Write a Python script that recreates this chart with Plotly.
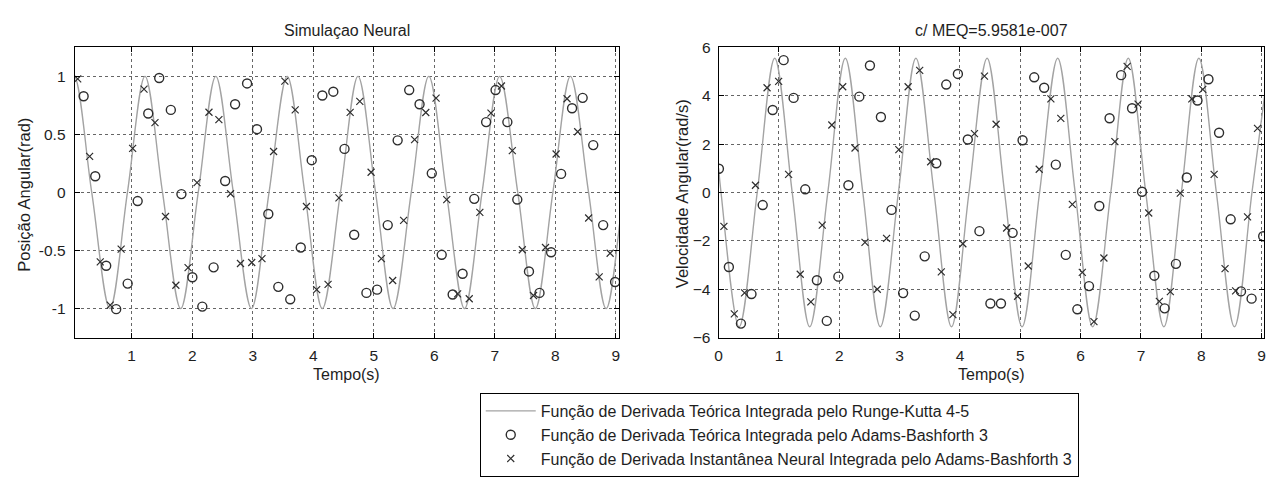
import plotly.graph_objects as go

# ---------------- data ----------------
# Runge-Kutta curve knots (extrema / zero crossings), position panel
pos_curve_t = [-0.24, 0.05, 0.34, 0.64, 0.93, 1.22, 1.51, 1.81, 2.10, 2.39, 2.68, 2.98, 3.27,
               3.57, 3.86, 4.15, 4.45, 4.74, 5.03, 5.32, 5.62, 5.91, 6.20, 6.50, 6.79, 7.08,
               7.38, 7.67, 7.96, 8.25, 8.55, 8.84, 9.13, 9.43]
pos_curve_y = [0, 1, 0, -1, 0, 1, 0, -1, 0, 1, 0, -1, 0,
               1, 0, -1, 0, 1, 0, -1, 0, 1, 0, -1, 0, 1,
               0, -1, 0, 1, 0, -1, 0, 1]

# Runge-Kutta curve knots, velocity panel
vel_curve_t = [0.0, 0.04, 0.34, 0.64, 0.93, 1.22, 1.51, 1.81, 2.10, 2.39, 2.68, 2.98, 3.27,
               3.57, 3.86, 4.15, 4.45, 4.74, 5.03, 5.32, 5.62, 5.91, 6.20, 6.50, 6.79, 7.08,
               7.38, 7.67, 7.96, 8.25, 8.55, 8.84, 9.13]
vel_curve_y = [1.0, 0, -5.55, 0, 5.55, 0, -5.55, 0, 5.55, 0, -5.55, 0, 5.55,
               0, -5.55, 0, 5.55, 0, -5.55, 0, 5.55, 0, -5.55, 0, 5.55, 0,
               -5.55, 0, 5.55, 0, -5.55, 0, 5.55]

# Adams-Bashforth 3 (theoretical derivative) - position
pos_ab_t = [0.206, 0.398, 0.579, 0.744, 0.934, 1.099, 1.274, 1.455, 1.647, 1.822, 2.003, 2.167,
            2.354, 2.545, 2.709, 2.907, 3.071, 3.258, 3.423, 3.620, 3.794, 3.975, 4.151, 4.332,
            4.517, 4.677, 4.879, 5.055, 5.231, 5.395, 5.586, 5.757, 5.959, 6.123, 6.304, 6.468,
            6.661, 6.857, 7.013, 7.208, 7.372, 7.565, 7.739, 7.931, 8.096, 8.277, 8.452, 8.627,
            8.791, 8.988]
pos_ab_y = [0.829, 0.14, -0.631, -1.005, -0.785, -0.074, 0.680, 0.986, 0.711, -0.014, -0.730, -0.983,
            -0.645, 0.099, 0.760, 0.939, 0.545, -0.185, -0.813, -0.920, -0.474, 0.278, 0.835, 0.868,
            0.375, -0.364, -0.865, -0.837, -0.281, 0.449, 0.882, 0.760, 0.165, -0.537, -0.879, -0.700,
            -0.055, 0.606, 0.882, 0.606, -0.061, -0.680, -0.865, -0.515, 0.160, 0.725, 0.815, 0.408,
            -0.281, -0.771]

# Adams-Bashforth 3 (neural instantaneous derivative) - position
pos_nn_t = [0.108, 0.305, 0.481, 0.645, 0.826, 1.016, 1.204, 1.385, 1.559, 1.730, 1.932, 2.080,
            2.277, 2.441, 2.634, 2.798, 2.984, 3.153, 3.345, 3.531, 3.702, 3.888, 4.057, 4.245,
            4.425, 4.610, 4.770, 4.956, 5.126, 5.313, 5.494, 5.675, 5.860, 6.030, 6.206, 6.386,
            6.578, 6.753, 6.937, 7.110, 7.290, 7.455, 7.640, 7.838, 8.013, 8.194, 8.370, 8.551,
            8.725, 8.906]
pos_nn_y = [0.978, 0.311, -0.598, -0.970, -0.488, 0.380, 0.890, 0.601, -0.207, -0.799, -0.647, 0.085,
            0.691, 0.628, -0.011, -0.612, -0.603, -0.570, 0.353, 0.959, 0.711, -0.121, -0.837, -0.791,
            -0.047, 0.690, 0.785, 0.174, -0.570, -0.758, -0.240, 0.455, 0.689, 0.813, -0.061, -0.873,
            -0.915, -0.171, 0.683, 0.917, 0.361, -0.493, -0.887, -0.474, 0.331, 0.807, 0.523, -0.220,
            -0.727, -0.523]

# Adams-Bashforth 3 (theoretical derivative) - velocity
vel_ab_t = [0.005, 0.17, 0.37, 0.545, 0.731, 0.896, 1.078, 1.243, 1.436, 1.629, 1.793, 1.985,
            2.151, 2.332, 2.508, 2.690, 2.866, 3.058, 3.251, 3.416, 3.608, 3.773, 3.966, 4.130,
            4.323, 4.505, 4.680, 4.873, 5.038, 5.231, 5.396, 5.589, 5.754, 5.946, 6.139, 6.310,
            6.480, 6.672, 6.853, 7.018, 7.222, 7.393, 7.580, 7.760, 7.937, 8.119, 8.295, 8.487,
            8.658, 8.834, 9.026]
vel_ab_y = [0.98, -3.08, -5.42, -4.20, -0.52, 3.41, 5.47, 3.91, 0.13, -3.63, -5.31, -3.48,
            0.30, 3.96, 5.25, 3.12, -0.72, -4.16, -5.09, -2.64, 1.21, 4.46, 4.90, 2.19,
            -1.60, -4.59, -4.59, -1.67, 2.16, 4.76, 4.33, 1.15, -2.58, -4.83, -3.87, -0.56,
            3.07, 4.85, 3.48, 0.03, -3.44, -4.79, -2.95, 0.62, 3.80, 4.68, 2.47, -1.11,
            -4.09, -4.39, -1.81]

# Adams-Bashforth 3 (neural instantaneous derivative) - velocity
vel_nn_t = [0.088, 0.260, 0.430, 0.611, 0.803, 0.995, 1.160, 1.353, 1.529, 1.718, 1.876, 2.057,
            2.261, 2.426, 2.630, 2.784, 2.987, 3.141, 3.333, 3.515, 3.691, 3.883, 4.048, 4.241,
            4.406, 4.599, 4.774, 4.956, 5.132, 5.314, 5.507, 5.672, 5.863, 6.028, 6.221, 6.386,
            6.568, 6.771, 6.952, 7.129, 7.305, 7.487, 7.652, 7.843, 8.025, 8.213, 8.394, 8.569,
            8.767, 8.932]
vel_nn_y = [-1.40, -5.02, -4.15, 0.30, 4.33, 4.59, 0.75, -3.38, -4.52, -1.35, 2.79, 4.37,
            1.84, -2.06, -4.00, -1.90, 1.77, 4.37, 5.05, 1.27, -3.28, -5.05, -2.12, 2.43,
            4.81, 2.82, -1.47, -4.29, -3.04, 0.96, 3.87, 3.06, -0.49, -3.30, -5.34, -2.71,
            2.10, 5.21, 3.65, -0.85, -4.50, -4.10, -0.03, 3.87, 4.26, 0.75, -3.15, -4.07,
            -1.01, 2.65]

pos_yticks = [-1, -0.5, 0, 0.5, 1]
pos_ytick_labels = ["-1", "-0.5", "0", "0.5", "1"]
vel_yticks = [-6, -4, -2, 0, 2, 4, 6]
left_xticks = [1, 2, 3, 4, 5, 6, 7, 8, 9]
right_xticks = [0, 1, 2, 3, 4, 5, 6, 7, 8, 9]

legend_names = [
    "Função de Derivada Teórica Integrada pelo Runge-Kutta 4-5",
    "Função de Derivada Teórica Integrada pelo Adams-Bashforth 3",
    "Função de Derivada Instantânea Neural Integrada pelo Adams-Bashforth 3",
]

# ---------------- figure ----------------
W, H = 1271, 477
FONT = "Liberation Sans, Arial, sans-serif"
CURVE = "#a3a3a3"
MARK = "#2e2e2e"
TXT = "#1e1e1e"

fig = go.Figure()

def add_panel(xa, ya, ct, cy, at, ay, nt, ny, show):
    fig.add_trace(go.Scatter(x=ct, y=cy, mode="lines",
                             line=dict(color=CURVE, width=1.4, shape="spline", smoothing=1.0),
                             name=legend_names[0], showlegend=show, xaxis=xa, yaxis=ya))
    fig.add_trace(go.Scatter(x=at, y=ay, mode="markers",
                             marker=dict(symbol="circle-open", size=9, color=MARK, line=dict(width=1.4, color=MARK)),
                             name=legend_names[1], showlegend=show, xaxis=xa, yaxis=ya))
    fig.add_trace(go.Scatter(x=nt, y=ny, mode="markers",
                             marker=dict(symbol="x-thin-open", size=7, color=MARK, line=dict(width=1.2, color=MARK)),
                             name=legend_names[2], showlegend=show, xaxis=xa, yaxis=ya))

add_panel("x", "y", pos_curve_t, pos_curve_y, pos_ab_t, pos_ab_y, pos_nn_t, pos_nn_y, True)
add_panel("x2", "y2", vel_curve_t, vel_curve_y, vel_ab_t, vel_ab_y, vel_nn_t, vel_nn_y, False)

def px_x(p):
    return p / W

def px_y(p):
    return 1 - p / H

top, bottom = 40, 343
axis_common = dict(
    showline=True, linecolor="#000", linewidth=1, mirror="ticks",
    ticks="inside", ticklen=5, tickcolor="#000", tickwidth=1,
    showgrid=True, gridcolor="#666", griddash="dot", gridwidth=1,
    zeroline=False, tickfont=dict(family=FONT, size=15.5, color=TXT),
)

fig.update_layout(
    width=W, height=H, margin=dict(l=0, r=0, t=0, b=0),
    paper_bgcolor="white", plot_bgcolor="white",
    font=dict(family=FONT, size=16, color=TXT),
    xaxis=dict(domain=[px_x(71), px_x(618)], range=[0.058, 9.054], tickvals=left_xticks,
               anchor="y", ticklabelstandoff=4, **axis_common),
    yaxis=dict(domain=[px_y(bottom), px_y(top)], range=[-1.25, 1.25], tickvals=pos_yticks,
               ticktext=pos_ytick_labels, anchor="x", ticklabelstandoff=5, **axis_common),
    xaxis2=dict(domain=[px_x(718), px_x(1266)], range=[0, 9.04], tickvals=right_xticks,
                anchor="y2", ticklabelstandoff=4, **axis_common),
    yaxis2=dict(domain=[px_y(bottom), px_y(top)], range=[-6, 6], tickvals=vel_yticks,
                anchor="x2", ticklabelstandoff=4, **axis_common),
    showlegend=True,
    legend=dict(x=px_x(478), y=px_y(401), xanchor="left", yanchor="top",
                bgcolor="white", bordercolor="#000", borderwidth=1,
                font=dict(family=FONT, size=16, color=TXT), itemwidth=50,
                tracegroupgap=0),
)

annos = [
    dict(text="Simulaçao Neural", x=px_x(344.5), y=px_y(22), size=16),
    dict(text="c/ MEQ=5.9581e-007", x=px_x(992), y=px_y(22), size=16),
    dict(text="Tempo(s)", x=px_x(344.5), y=px_y(381), size=16),
    dict(text="Tempo(s)", x=px_x(992), y=px_y(381), size=16),
    dict(text="Posição Angular(rad)", x=px_x(20), y=px_y(194), textangle=-90, size=16.5),
    dict(text="Velocidade Angular(rad/s)", x=px_x(681.5), y=px_y(193), textangle=-90, size=16.5),
]
for a in annos:
    size = a.pop("size")
    fig.add_annotation(xref="paper", yref="paper", showarrow=False,
                       font=dict(family=FONT, size=size, color=TXT),
                       xanchor="center", yanchor="middle", **a)

fig.write_html("out.html")
